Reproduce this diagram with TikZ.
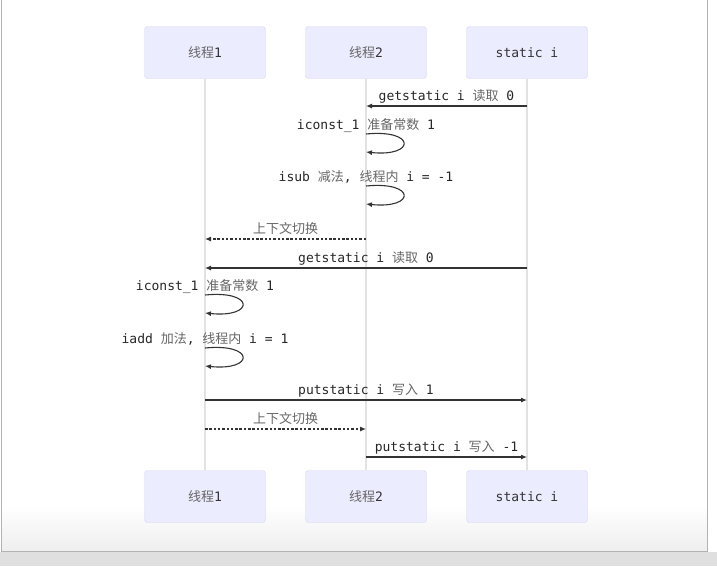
\documentclass[tikz,border=0pt]{standalone}
\usepackage{fontspec}
\setmonofont{DejaVu Sans Mono}
\newfontfamily\cjk{Noto Sans CJK SC}
\usetikzlibrary{arrows.meta}
\definecolor{actfill}{HTML}{ECECFF}
\definecolor{actline}{HTML}{D4D4F4}
\definecolor{lifeln}{HTML}{E2E2E2}
\definecolor{msgln}{HTML}{333333}
\newcommand{\zh}[1]{{\cjk\color{black!60}#1}}

\tikzset{acteur/.style = {rectangle, rounded corners=3pt, draw=actline, fill=actfill,
                          minimum width=121pt, minimum height=52pt, inner sep=0pt,
                          font=\ttfamily\fontsize{13}{15}\selectfont, text=black!80},
         vie/.style = {draw=lifeln, line width=1.5pt},
         msg/.style = {draw=msgln, line width=1.1pt, -{Latex[length=6pt,width=5pt]}},
         retour/.style = {msg, dash pattern=on 2.5pt off 1.8pt},
         txt/.style = {anchor=base, inner sep=0pt, text=black!85,
                       font=\ttfamily\fontsize{13}{15}\selectfont}
        }

\begin{document}
\begin{tikzpicture}[x=1pt,y=-1pt]
\useasboundingbox (0,0) rectangle (717,566);
% cadre
\shade[top color=white, bottom color=gray!13] (1.5,505) rectangle (706.5,550.5);
\fill[gray!25] (0,551.5) rectangle (717,566);
\draw[gray!60, line width=1pt] (1,0) -- (1,551) -- (707,551) -- (707,0);
% acteurs
\node[acteur] at (205,52.5) (t1) {\zh{线程}1};
\node[acteur] at (366,52.5) (t2) {\zh{线程}2};
\node[acteur] at (527,52.5) (si) {static i};
\node[acteur] at (205,496.5) (b1) {\zh{线程}1};
\node[acteur] at (366,496.5) (b2) {\zh{线程}2};
\node[acteur] at (527,496.5) (bs) {static i};
\draw[vie] (t1) -- (b1);
\draw[vie] (t2) -- (b2);
\draw[vie] (si) -- (bs);
% points sur les lignes de vie
\coordinate (a1) at (527,106);   \coordinate (a2) at (366,106);
\coordinate (c1) at (366,134);   \coordinate (c2) at (366,152);
\coordinate (d1) at (366,186);   \coordinate (d2) at (366,204);
\coordinate (e1) at (366,239);   \coordinate (e2) at (205,239);
\coordinate (f1) at (527,268);   \coordinate (f2) at (205,268);
\coordinate (g1) at (205,295);   \coordinate (g2) at (205,313);
\coordinate (h1) at (205,348);   \coordinate (h2) at (205,366);
\coordinate (p1) at (205,400);   \coordinate (p2) at (527,400);
\coordinate (q1) at (205,429);   \coordinate (q2) at (366,429);
\coordinate (r1) at (366,457);   \coordinate (r2) at (527,457);
% messages
\draw[msg] (a1) -- (a2);
\node[txt] at (446.5,100.5) (la) {getstatic i \zh{读取} 0};
\draw[msg] (c1) .. controls (416,129) and (416,157) .. (c2);
\node[txt] at (366,129.5) (lc) {iconst\_1 \zh{准备常数} 1};
\draw[msg] (d1) .. controls (416,181) and (416,209) .. (d2);
\node[txt] at (366,181.5) (ld) {isub \zh{减法}, \zh{线程内} i = -1};
\draw[retour] (e1) -- (e2);
\node[txt] at (285.5,233.5) (le) {\zh{上下文切换}};
\draw[msg] (f1) -- (f2);
\node[txt] at (366,262.5) (lf) {getstatic i \zh{读取} 0};
\draw[msg] (g1) .. controls (255,290) and (255,318) .. (g2);
\node[txt] at (205,290.5) (lg) {iconst\_1 \zh{准备常数} 1};
\draw[msg] (h1) .. controls (255,343) and (255,371) .. (h2);
\node[txt] at (205,343.5) (lh) {iadd \zh{加法}, \zh{线程内} i = 1};
\draw[msg] (p1) -- (p2);
\node[txt] at (366,394.5) (lp) {putstatic i \zh{写入} 1};
\draw[retour] (q1) -- (q2);
\node[txt] at (285.5,423.5) (lq) {\zh{上下文切换}};
\draw[msg] (r1) -- (r2);
\node[txt] at (446.5,451.5) (lr) {putstatic i \zh{写入} -1};
\end{tikzpicture}
\end{document}
